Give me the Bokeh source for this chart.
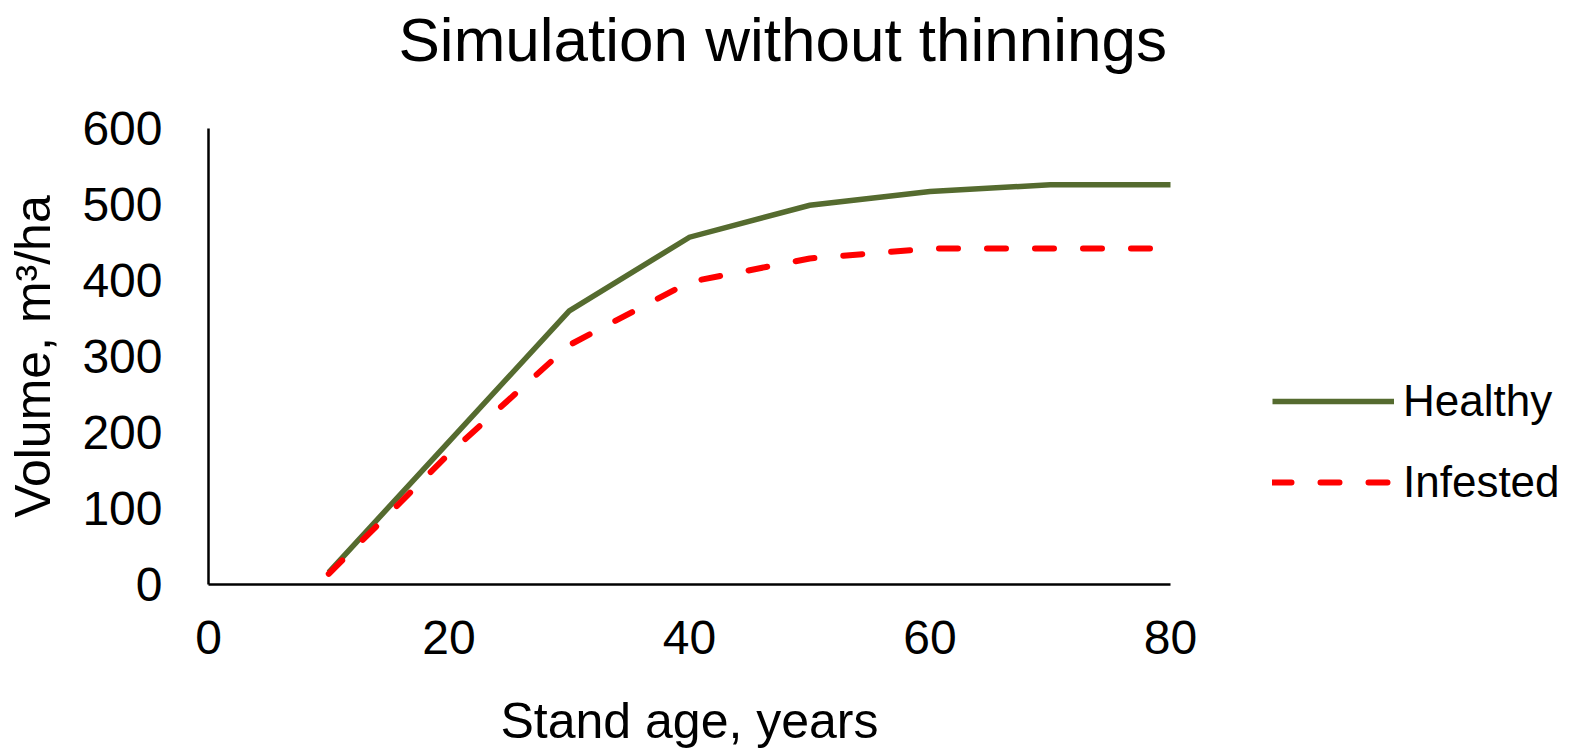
from bokeh.plotting import figure
from bokeh.models import Range1d, FixedTicker, Legend, LegendItem, Label
from bokeh.embed import file_html
from bokeh.resources import INLINE

# Data
age = [10, 20, 30, 40, 50, 60, 70, 80]
healthy = [16, 188, 360, 457, 499, 517, 526, 526]
infested = [14, 172, 315, 398, 429, 442, 442, 442]
x_ticks = [0, 20, 40, 60, 80]
y_ticks = [0, 100, 200, 300, 400, 500, 600]
x_lim = (0, 80)
y_lim = (0, 600)

title_text = "Simulation without thinnings"
x_title = "Stand age, years"
y_title = "Volume, m\u00b3/ha"

FONT = "Liberation Sans"
W, H = 1581, 749
# plot-area edges in pixels (left, right, top, bottom)
L, R, T, B = 208, 1170, 128, 584

# frame covers whole canvas; ranges chosen so the axes sit at the plot-area edges
xs = (x_lim[1] - x_lim[0]) / (R - L)
ys = (y_lim[1] - y_lim[0]) / (B - T)
x_range = Range1d(x_lim[0] - L * xs, x_lim[1] + (W - R) * xs)
y_range = Range1d(y_lim[0] - (H - B) * ys, y_lim[1] + T * ys)

p = figure(width=W, height=H, output_backend="svg", toolbar_location=None,
           x_range=x_range, y_range=y_range, title=None,
           min_border=0, min_border_left=0, min_border_right=0,
           min_border_top=0, min_border_bottom=0)
p.outline_line_color = None
p.xgrid.grid_line_color = None
p.ygrid.grid_line_color = None
p.background_fill_color = "white"
p.border_fill_color = "white"

xa, ya = p.xaxis[0], p.yaxis[0]
xa.fixed_location = y_lim[0]
ya.fixed_location = x_lim[0]
xa.bounds = x_lim
ya.bounds = y_lim

for ax in (xa, ya):
    ax.axis_line_width = 2.5
    ax.axis_line_color = "black"
    ax.major_tick_out = 0
    ax.major_tick_in = 0
    ax.minor_tick_out = 0
    ax.minor_tick_in = 0
    ax.major_label_text_font = FONT
    ax.major_label_text_font_size = "48px"
    ax.major_label_text_color = "black"
    ax.axis_label_text_font = FONT
    ax.axis_label_text_font_size = "50px"
    ax.axis_label_text_font_style = "normal"
    ax.axis_label_text_color = "black"

xa.ticker = FixedTicker(ticks=x_ticks)
ya.ticker = FixedTicker(ticks=y_ticks)
xa.axis_label = x_title
ya.axis_label = y_title
xa.major_label_standoff = 36
xa.axis_label_standoff = 36
ya.major_label_standoff = 46
ya.axis_label_standoff = 18

r1 = p.line(age, healthy, line_color="#556B2F", line_width=5.5, line_join="miter")
r2 = p.line(age, infested, line_color="#FF0000", line_width=6, line_dash="19 29",
            line_cap="round")

legend = Legend(items=[LegendItem(label="Healthy", renderers=[r1]),
                       LegendItem(label="Infested", renderers=[r2])],
                location=(1272, H - 512), orientation="vertical",
                border_line_color=None, background_fill_alpha=0,
                padding=0, margin=0, spacing=21,
                glyph_width=122, glyph_height=60, label_height=60,
                label_standoff=9,
                label_text_font=FONT, label_text_font_size="44px",
                label_text_color="black")
p.add_layout(legend)

title = Label(x=398, y=H - 39, x_units="screen", y_units="screen",
              text=title_text, text_align="left", text_baseline="alphabetic",
              text_font=FONT, text_font_size="62px", text_color="black")
p.add_layout(title)

open("out.html", "w").write(file_html(p, INLINE))
